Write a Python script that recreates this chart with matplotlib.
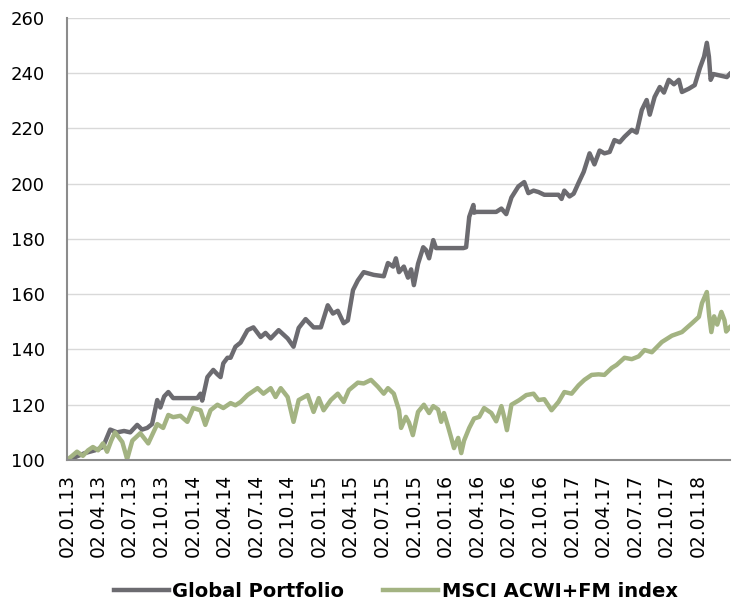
import numpy as np
import pandas as pd
import matplotlib
matplotlib.use('Agg')
import matplotlib.pyplot as plt
import matplotlib.dates as mdates

plt.rcParams['font.family'] = ['DejaVu Sans']

# ── data ─────────────────────────────────────────────────────
gp_dates = [
    "2013-01-02", "2013-01-25", "2013-02-23", "2013-03-24", "2013-04-16", "2013-05-07",
    "2013-05-27", "2013-06-16", "2013-07-04", "2013-07-24", "2013-08-07", "2013-08-22",
    "2013-09-05", "2013-09-20", "2013-09-29", "2013-10-10", "2013-10-22", "2013-11-05",
    "2013-11-17", "2013-12-16", "2014-01-14", "2014-01-23", "2014-01-28", "2014-02-12",
    "2014-03-01", "2014-03-13", "2014-03-22", "2014-03-30", "2014-04-11", "2014-04-20",
    "2014-05-04", "2014-05-19", "2014-06-08", "2014-06-25", "2014-07-16", "2014-07-30",
    "2014-08-14", "2014-09-06", "2014-10-02", "2014-10-19", "2014-11-03", "2014-11-23",
    "2014-12-16", "2015-01-06", "2015-01-26", "2015-02-10", "2015-02-24", "2015-03-13",
    "2015-03-25", "2015-04-09", "2015-04-23", "2015-05-10", "2015-06-08", "2015-07-07",
    "2015-07-19", "2015-08-03", "2015-08-11", "2015-08-20", "2015-09-03", "2015-09-15",
    "2015-09-24", "2015-10-02", "2015-10-14", "2015-10-29", "2015-11-06", "2015-11-15",
    "2015-11-27", "2015-12-05", "2016-01-03", "2016-02-01", "2016-02-22", "2016-03-01",
    "2016-03-10", "2016-03-22", "2016-03-24", "2016-03-30", "2016-04-28", "2016-05-27",
    "2016-06-11", "2016-06-25", "2016-07-10", "2016-07-30", "2016-08-16", "2016-08-28",
    "2016-09-12", "2016-09-26", "2016-10-13", "2016-11-03", "2016-11-23", "2016-12-02",
    "2016-12-10", "2016-12-25", "2017-01-06", "2017-01-20", "2017-02-04", "2017-02-21",
    "2017-03-07", "2017-03-22", "2017-04-05", "2017-04-20", "2017-05-04", "2017-05-19",
    "2017-06-02", "2017-06-23", "2017-07-07", "2017-07-22", "2017-08-05", "2017-08-14",
    "2017-08-28", "2017-09-12", "2017-09-24", "2017-10-08", "2017-10-23", "2017-11-06",
    "2017-11-15", "2017-12-05", "2017-12-22", "2018-01-06", "2018-01-18", "2018-01-26",
    "2018-02-01", "2018-02-06", "2018-02-14", "2018-03-11", "2018-03-25", "2018-04-02",
]
gp_values = [
    100.0, 101.0, 102.5, 103.5, 104.7, 111.0,
    110.0, 110.5, 110.0, 112.7, 111.0, 111.6,
    113.0, 121.7, 119.0, 123.0, 124.6, 122.4,
    122.4, 122.4, 122.4, 124.0, 121.5, 130.0,
    132.6, 131.0, 130.0, 135.0, 137.0, 137.0,
    141.0, 142.5, 147.0, 148.0, 144.5, 146.0,
    144.0, 147.0, 144.0, 141.0, 147.8, 151.0,
    148.0, 148.0, 156.0, 153.0, 154.0, 149.5,
    150.5, 161.5, 165.0, 168.0, 167.0, 166.5,
    171.3, 170.0, 173.0, 168.0, 170.0, 166.0,
    169.0, 163.3, 171.0, 177.0, 176.0, 173.0,
    179.6, 176.7, 176.7, 176.7, 176.7, 177.0,
    188.0, 192.3, 189.5, 189.8, 189.8, 189.8,
    191.0, 189.0, 195.0, 199.0, 200.6, 196.6,
    197.5, 197.0, 196.0, 196.0, 196.0, 194.5,
    197.5, 195.4, 196.4, 200.3, 204.3, 211.0,
    207.0, 212.0, 211.0, 211.5, 215.8, 215.0,
    217.0, 219.5, 218.5, 226.7, 230.3, 225.0,
    231.4, 235.0, 233.0, 237.6, 236.0, 237.6,
    233.2, 234.4, 235.7, 241.9, 246.0, 251.0,
    246.0, 237.6, 239.7, 239.0, 238.6, 239.7,
]

msci_dates = [
    "2013-01-02", "2013-01-17", "2013-01-31", "2013-02-17", "2013-03-04", "2013-03-18",
    "2013-04-02", "2013-04-16", "2013-04-28", "2013-05-10", "2013-05-21", "2013-06-11",
    "2013-06-25", "2013-07-10", "2013-08-02", "2013-08-25", "2013-09-20", "2013-10-07",
    "2013-10-22", "2013-11-05", "2013-11-26", "2013-12-16", "2014-01-02", "2014-01-23",
    "2014-02-06", "2014-02-21", "2014-03-13", "2014-03-30", "2014-04-20", "2014-05-04",
    "2014-05-19", "2014-06-08", "2014-07-07", "2014-07-24", "2014-08-14", "2014-08-28",
    "2014-09-12", "2014-10-02", "2014-10-19", "2014-11-03", "2014-11-29", "2014-12-16",
    "2014-12-31", "2015-01-14", "2015-02-04", "2015-02-24", "2015-03-13", "2015-03-28",
    "2015-04-23", "2015-05-10", "2015-05-31", "2015-06-20", "2015-07-07", "2015-07-19",
    "2015-08-05", "2015-08-20", "2015-08-26", "2015-09-09", "2015-09-18", "2015-09-29",
    "2015-10-14", "2015-10-31", "2015-11-15", "2015-11-27", "2015-12-11", "2015-12-20",
    "2015-12-28", "2016-01-09", "2016-01-18", "2016-01-26", "2016-02-07", "2016-02-16",
    "2016-02-24", "2016-03-10", "2016-03-24", "2016-04-08", "2016-04-22", "2016-05-13",
    "2016-05-27", "2016-06-11", "2016-06-19", "2016-06-27", "2016-07-10", "2016-08-02",
    "2016-08-22", "2016-09-12", "2016-09-26", "2016-10-13", "2016-11-03", "2016-11-23",
    "2016-12-10", "2016-12-31", "2017-01-20", "2017-02-06", "2017-02-27", "2017-03-19",
    "2017-04-05", "2017-04-26", "2017-05-10", "2017-06-02", "2017-06-23", "2017-07-13",
    "2017-07-30", "2017-08-20", "2017-09-18", "2017-10-17", "2017-11-15", "2017-12-14",
    "2018-01-03", "2018-01-12", "2018-01-26", "2018-02-02", "2018-02-08", "2018-02-16",
    "2018-02-25", "2018-03-09", "2018-03-18", "2018-03-23", "2018-04-02",
]
msci_values = [
    100.0, 101.5, 103.0, 101.5, 103.5, 104.7,
    103.5, 106.0, 103.0, 107.0, 110.0, 106.5,
    100.3, 107.0, 109.7, 106.0, 113.0, 111.6,
    116.3, 115.5, 116.0, 113.8, 118.8, 118.0,
    112.7, 118.0, 120.0, 118.8, 120.6, 119.8,
    121.0, 123.5, 126.0, 124.0, 126.0, 122.8,
    126.0, 122.8, 113.8, 121.7, 123.5, 117.4,
    122.4, 118.0, 121.7, 124.0, 121.0, 125.3,
    128.0, 127.7, 129.0, 126.5, 124.0, 126.0,
    124.0, 118.0, 111.6, 115.6, 113.5, 109.0,
    117.4, 120.0, 117.0, 119.5, 118.3, 113.8,
    117.0, 112.0, 108.0, 104.3, 108.0, 102.5,
    107.0, 111.6, 115.0, 115.6, 118.8, 117.0,
    114.0, 119.5, 115.6, 110.8, 120.0, 121.7,
    123.5, 124.0, 121.7, 122.0, 118.0, 121.0,
    124.6, 124.0, 127.0, 129.0, 130.8, 131.0,
    130.8, 133.3, 134.4, 137.0, 136.5, 137.5,
    139.8, 139.0, 142.7, 145.0, 146.3, 149.5,
    151.8, 156.8, 160.8, 152.0, 146.3, 152.0,
    149.0, 153.6, 150.6, 146.5, 148.0,
]

series_names = ["Global Portfolio", "MSCI ACWI+FM index"]
y_ticks = [100, 120, 140, 160, 180, 200, 220, 240, 260]

GRAY = "#6c6b70"
GREEN = "#a3b382"

# ── chart ────────────────────────────────────────────────────
fig = plt.figure(figsize=(7.4, 6.05), dpi=100)
ax = fig.add_axes([0.0905, 0.2397, 0.896, 0.7306])

ax.plot(pd.to_datetime(gp_dates), gp_values, color=GRAY, lw=3.2,
        solid_joinstyle='round', label=series_names[0])
ax.plot(pd.to_datetime(msci_dates), msci_values, color=GREEN, lw=3.2,
        solid_joinstyle='round', label=series_names[1])

ax.set_ylim(100, 260)
ax.set_yticks(y_ticks)
ax.set_xlim(pd.Timestamp("2013-01-02"), pd.Timestamp("2018-04-03"))
qticks = pd.date_range("2013-01-02", periods=21, freq=pd.DateOffset(months=3))
ax.set_xticks(qticks)
ax.xaxis.set_major_formatter(mdates.DateFormatter("%d.%m.%y"))

ax.grid(axis='y', color='#d9d9d9', lw=1.0)
ax.set_axisbelow(True)
for s in ['top', 'right']:
    ax.spines[s].set_visible(False)
for s in ['left', 'bottom']:
    ax.spines[s].set_color('#8c8c8c')
    ax.spines[s].set_linewidth(1.5)

ax.tick_params(axis='y', length=0, pad=16, labelsize=13)
ax.tick_params(axis='x', length=0, pad=10, labelsize=13.5, labelrotation=90)
for lbl in ax.get_xticklabels():
    lbl.set_horizontalalignment('center')

fig.legend(loc='lower center', bbox_to_anchor=(0.535, -0.022), ncol=2, frameon=False,
           prop={'weight': 'bold', 'size': 14}, handlelength=2.8,
           handletextpad=0.2, columnspacing=2.0)

plt.savefig("out.png", dpi=100)
